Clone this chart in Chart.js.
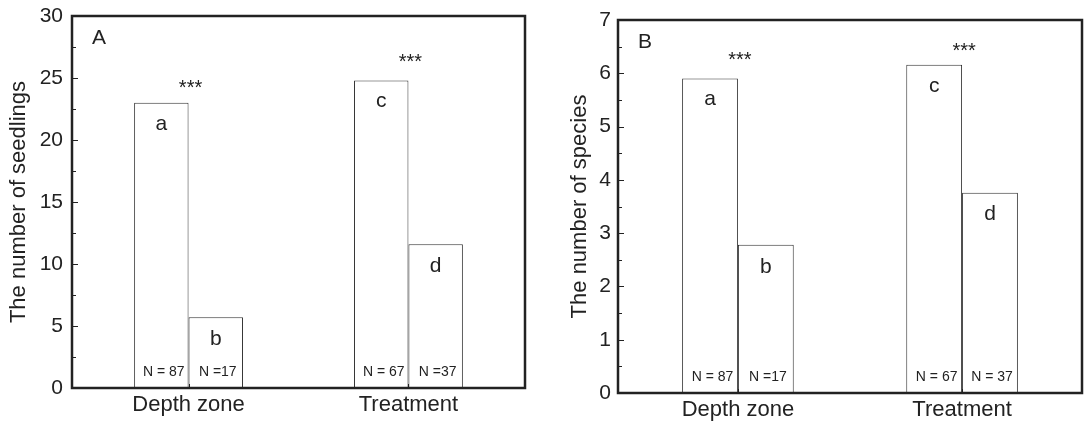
<!DOCTYPE html>
<html>
<head>
<meta charset="utf-8">
<script src="https://cdn.jsdelivr.net/npm/chart.js"></script>
<style>
  html, body { margin: 0; padding: 0; background: #fff; overflow: hidden; }
  #wrapA { position: absolute; left: 0; top: 0; width: 545px; height: 421px; }
  #wrapB { position: absolute; left: 545px; top: 0; width: 539px; height: 421px; }
</style>
</head>
<body>
<div id="wrapA"><canvas id="chartA"></canvas></div>
<div id="wrapB"><canvas id="chartB"></canvas></div>
<script>
const categories = ["Depth zone", "Treatment"];

// panel A: seedlings
const seedlingsFirst = [23.0, 24.8];   // a, c
const seedlingsSecond = [5.7, 11.6];   // b, d
const seedlingsStars = [24.6, 26.7];
const seedlingsN1 = ["N = 87", "N = 67"];
const seedlingsN2 = ["N =17", "N =37"];

// panel B: species
const speciesFirst = [5.9, 6.16];
const speciesSecond = [2.78, 3.76];
const speciesStars = [6.36, 6.52];
const speciesN1 = ["N = 87", "N = 67"];
const speciesN2 = ["N =17", "N = 37"];

const letters1 = ["a", "c"];
const letters2 = ["b", "d"];

const FONT = "'Liberation Sans', Arial, Helvetica, sans-serif";
const INK = "#222";

// frame, inside ticks and the text marks
const decorations = {
  id: "decorations",
  afterDatasetsDraw(chart, args, opts) {
    const ctx = chart.ctx;
    const a = chart.chartArea;
    const y = chart.scales.y;
    const x = chart.scales.x;
    ctx.save();
    ctx.strokeStyle = "#222";
    ctx.lineWidth = 1;
    // y ticks (major + minor), inward
    const half = opts.step / 2;
    for (let v = 0; v <= y.max + 1e-9; v += half) {
      const py = Math.round(y.getPixelForValue(v)) + 0.5;
      const major = Math.abs(v / opts.step - Math.round(v / opts.step)) < 1e-6;
      ctx.beginPath();
      ctx.moveTo(a.left, py);
      ctx.lineTo(a.left + (major ? 6 : 4), py);
      ctx.stroke();
    }
    // x ticks at category centres
    categories.forEach((c, i) => {
      const px = Math.round(x.getPixelForValue(i)) + 0.5;
      ctx.beginPath();
      ctx.moveTo(px, a.bottom);
      ctx.lineTo(px, a.bottom - 4);
      ctx.stroke();
    });
    // frame
    ctx.lineWidth = 2.5;
    ctx.strokeRect(a.left, a.top, a.right - a.left, a.bottom - a.top);

    ctx.fillStyle = INK;
    ctx.textAlign = "center";
    ctx.textBaseline = "middle";
    // panel letter
    ctx.font = "21px " + FONT;
    ctx.fillText(opts.panel, a.left + 27, a.top + 22);

    const m1 = chart.getDatasetMeta(0).data;
    const m2 = chart.getDatasetMeta(1).data;
    // group letters inside bars
    ctx.font = "21px " + FONT;
    m1.forEach((b, i) => ctx.fillText(letters1[i], b.x, b.y + 21));
    m2.forEach((b, i) => ctx.fillText(letters2[i], b.x, b.y + 22));
    // N labels
    ctx.font = "14px " + FONT;
    m1.forEach((b, i) => ctx.fillText(opts.n1[i], b.x + 2.5, a.bottom - 15.5));
    m2.forEach((b, i) => ctx.fillText(opts.n2[i], b.x + 2, a.bottom - 15.5));
    // significance stars (glyph centre sits ~0.575em above the baseline)
    ctx.font = "20px " + FONT;
    ctx.textBaseline = "alphabetic";
    opts.stars.forEach((v, i) => {
      const px = x.getPixelForValue(i);
      ctx.fillText("***", px + 2, y.getPixelForValue(v) + 11.5);
    });
    ctx.restore();
  }
};

function makePanel(id, first, second, yMax, step, title, pad, yWidth, xHeight, titlePad, tickPad, xm, cp, extra) {
  return new Chart(document.getElementById(id), {
    type: "bar",
    data: {
      datasets: [
        { data: first.map((v, i) => ({ x: i, y: v })), backgroundColor: "#fff", borderColor: "#333",
          borderWidth: 1, barPercentage: 1, categoryPercentage: cp },
        { data: second.map((v, i) => ({ x: i, y: v })), backgroundColor: "#fff", borderColor: "#333",
          borderWidth: 1, barPercentage: 1, categoryPercentage: cp }
      ]
    },
    options: {
      responsive: true,
      maintainAspectRatio: false,
      animation: false,
      layout: { padding: pad },
      plugins: {
        legend: { display: false },
        tooltip: { enabled: false },
        decorations: extra
      },
      scales: {
        x: {
          type: "linear",
          min: -xm,
          max: 1 + xm,
          offset: false,
          grid: { display: false, drawTicks: false },
          border: { display: false },
          afterBuildTicks: s => { s.ticks = categories.map((c, i) => ({ value: i })); },
          ticks: { color: INK, font: { family: FONT, size: 22 }, padding: 4,
                   callback: v => categories[v] },
          afterFit: s => { s.height = xHeight; s.paddingLeft = 0; s.paddingRight = 0; }
        },
        y: {
          min: 0,
          max: yMax,
          grid: { display: false, drawTicks: false },
          border: { display: false },
          ticks: { stepSize: step, color: INK, font: { family: FONT, size: 21 }, padding: tickPad },
          title: { display: true, text: title, color: INK, font: { family: FONT, size: 22 },
                   padding: { top: titlePad, bottom: 0 } },
          afterFit: s => { s.width = yWidth; s.paddingTop = 0; s.paddingBottom = 0; }
        }
      }
    },
    plugins: [decorations]
  });
}

makePanel("chartA", seedlingsFirst, seedlingsSecond, 30, 5, "The number of seedlings",
  { left: 0, right: 20, top: 16, bottom: 0 }, 72, 33, 6, 9, 0.53, 0.495,
  { panel: "A", step: 5, stars: seedlingsStars, n1: seedlingsN1, n2: seedlingsN2 });

makePanel("chartB", speciesFirst, speciesSecond, 7, 1, "The number of species",
  { left: 0, right: 2, top: 20, bottom: 0 }, 73, 28, 22, 7, 0.535, 0.498,
  { panel: "B", step: 1, stars: speciesStars, n1: speciesN1, n2: speciesN2 });
</script>
</body>
</html>
